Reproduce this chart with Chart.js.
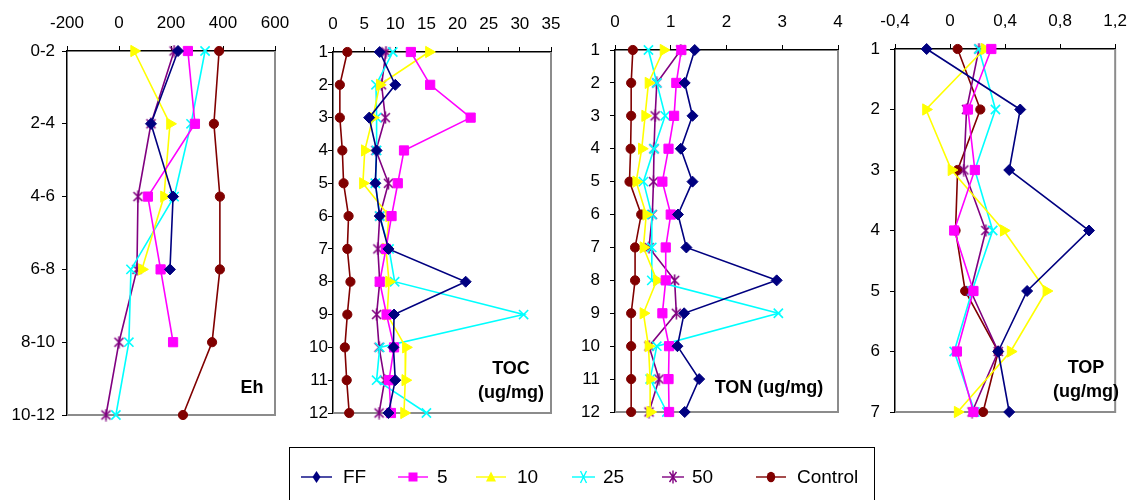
<!DOCTYPE html>
<html><head><meta charset="utf-8">
<script src="https://cdn.jsdelivr.net/npm/chart.js@4/dist/chart.umd.min.js"></script>
<style>
html,body{margin:0;padding:0;background:#fff;}
#wrap{position:relative;width:1139px;height:500px;overflow:hidden;font-family:"Liberation Sans",Arial,sans-serif;background:#fff;}
canvas.c{position:absolute;left:0;top:0;}
.t{position:absolute;font-weight:bold;font-size:18px;color:#000;text-align:center;line-height:24px;white-space:nowrap;}
#legend{position:absolute;left:289px;top:447px;width:586px;height:80px;border:1.5px solid #000;box-sizing:border-box;}
.li{position:absolute;font-size:19px;color:#000;line-height:22px;}
svg.m{position:absolute;}
</style>
</head><body>
<div id="wrap">
<canvas class="c" id="c1" width="1139" height="500"></canvas>
<canvas class="c" id="c2" width="1139" height="500"></canvas>
<canvas class="c" id="c3" width="1139" height="500"></canvas>
<canvas class="c" id="c4" width="1139" height="500"></canvas>
<div class="t" style="left:222px;top:375px;width:60px;">Eh</div>
<div class="t" style="left:461px;top:356px;width:100px;">TOC<br>(ug/mg)</div>
<div class="t" style="left:709px;top:375px;width:120px;">TON (ug/mg)</div>
<div class="t" style="left:1036px;top:355px;width:100px;">TOP<br>(ug/mg)</div>
<div id="legend"></div>
</div>
<script>
// ---- data ----
const seriesNames = ['FF', '5', '10', '25', '50', 'Control'];

const ehLabels = ['0-2', '2-4', '4-6', '6-8', '8-10', '10-12'];
const ehFF = [227, 123, 208, 196, null, null];
const eh5 = [265, 292, 111, 160, 208, null];
const eh10 = [58, 196, 173, 88, null, null];
const eh25 = [331, 277, 212, 46, 38, -12];
const eh50 = [212, 123, 73, 69, 0, -50];
const ehControl = [385, 365, 388, 388, 358, 246];

const tocLabels = ['1','2','3','4','5','6','7','8','9','10','11','12'];
const tocFF = [7.5, 10.0, 5.8, 7.0, 6.8, 7.5, 8.9, 21.3, 9.8, 9.7, 10.0, 8.9];
const toc5 = [12.5, 15.6, 22.1, 11.4, 10.4, 9.4, 8.5, 7.5, 8.6, 9.8, 9.0, 9.3];
const toc10 = [15.4, 7.5, 6.4, 5.1, 4.8, 9.0, 8.5, 9.0, 8.7, 11.7, 11.6, 11.4];
const toc25 = [9.6, 6.9, 7.0, 7.0, 6.8, 7.5, 9.0, 9.9, 30.6, 7.5, 7.0, 15.0];
const toc50 = [8.5, 7.8, 8.4, 6.9, 8.9, 7.5, 7.2, 7.5, 7.0, 7.4, 8.3, 7.4];
const tocControl = [2.3, 1.1, 1.1, 1.5, 1.7, 2.5, 2.3, 2.8, 2.3, 1.9, 2.2, 2.6];

const tonLabels = ['1','2','3','4','5','6','7','8','9','10','11','12'];
const tonFF = [1.43, 1.25, 1.39, 1.18, 1.39, 1.13, 1.28, 2.90, 1.24, 1.12, 1.51, 1.25];
const ton5 = [1.19, 1.10, 1.06, 0.96, 0.85, 1.00, 0.91, 0.91, 0.85, 0.97, 0.96, 0.97];
const ton10 = [0.87, 0.60, 0.54, 0.48, 0.38, 0.56, 0.51, 0.75, 0.51, 0.60, 0.63, 0.63];
const ton25 = [0.60, 0.75, 0.90, 0.70, 0.51, 0.66, 0.66, 0.66, 2.93, 0.75, 0.63, 0.93];
const ton50 = [1.18, 0.75, 0.72, 0.70, 0.69, 0.67, 0.61, 1.07, 1.10, 0.61, 0.79, 0.61];
const tonControl = [0.32, 0.29, 0.29, 0.28, 0.26, 0.47, 0.36, 0.36, 0.29, 0.29, 0.29, 0.29];

const topLabels = ['1','2','3','4','5','6','7'];
const topFF = [-0.17, 0.51, 0.43, 1.01, 0.56, 0.35, 0.43];
const top5 = [0.30, 0.13, 0.18, 0.03, 0.17, 0.05, 0.17];
const top10 = [0.25, -0.175, 0.01, 0.39, 0.70, 0.44, 0.055];
const top25 = [0.21, 0.33, 0.18, 0.31, 0.16, 0.03, 0.18];
const top50 = [0.21, 0.12, 0.10, 0.26, 0.15, 0.35, 0.16];
const topControl = [0.055, 0.22, 0.055, 0.04, 0.11, 0.35, 0.24];

const ehTicks = {min: -200, max: 600, step: 200};
const tocTicks = {min: 0, max: 35, step: 5};
const tonTicks = {min: 0, max: 4, step: 1};
const topTicks = {min: -0.4, max: 1.2, step: 0.4};

// ---- styles ----
const colors = ['#000080', '#FF00FF', '#FFFF00', '#00FFFF', '#800080', '#800000'];

function starImage(color) {
  const c = document.createElement('canvas');
  c.width = 13; c.height = 13;
  const g = c.getContext('2d');
  g.strokeStyle = color; g.lineWidth = 1.6;
  g.beginPath();
  g.moveTo(6.5, 0.5); g.lineTo(6.5, 12.5);
  g.moveTo(2, 2); g.lineTo(11, 11);
  g.moveTo(11, 2); g.lineTo(2, 11);
  g.stroke();
  return c;
}
const pointStyles = [
  {pointStyle: 'rectRot', pointRadius: 5.5, pointRotation: 0},
  {pointStyle: 'rect', pointRadius: 6.5, pointRotation: 0},
  {pointStyle: 'triangle', pointRadius: 6.5, pointRotation: 90},
  {pointStyle: 'crossRot', pointRadius: 6.5, pointRotation: 0},
  {pointStyle: starImage('#800080'), pointRadius: 6, pointRotation: 0},
  {pointStyle: 'circle', pointRadius: 4.6, pointRotation: 0}
];

const YW = 60, XH = 40, FONT = 'Liberation Sans, Arial, sans-serif';

const frame = {
  id: 'frame',
  beforeDatasetsDraw(chart) {
    const {ctx, chartArea: a} = chart;
    ctx.save();
    ctx.strokeStyle = '#8c8c8c';
    ctx.lineWidth = 2;
    ctx.beginPath();
    ctx.moveTo(a.left, a.bottom);
    ctx.lineTo(a.right, a.bottom);
    ctx.lineTo(a.right, a.top);
    ctx.stroke();
    ctx.restore();
  }
};

function fmtComma(v) {
  const r = Math.round(v * 10) / 10;
  if (r === 0) return '0';
  return String(r).replace('.', ',');
}

function makePanel(id, labels, series, tk, area, labelPad, fmt) {
  new Chart(document.getElementById(id), {
    type: 'line',
    data: {
      labels: labels,
      datasets: series.map((vals, i) => Object.assign({
        label: seriesNames[i],
        data: vals,
        borderColor: colors[i],
        backgroundColor: colors[i],
        pointBackgroundColor: colors[i],
        pointBorderColor: colors[i],
        pointBorderWidth: (i === 3) ? 1.6 : 1,
        borderWidth: 1.6,
        tension: 0,
        clip: false,
        spanGaps: false
      }, pointStyles[i]))
    },
    options: {
      indexAxis: 'y',
      responsive: false,
      animation: false,
      events: [],
      layout: {padding: {left: area.l - YW, top: area.t - XH, right: 1139 - area.r, bottom: 500 - area.b}},
      plugins: {legend: {display: false}, tooltip: {enabled: false}},
      scales: {
        x: {
          type: 'linear', position: 'top', min: tk.min, max: tk.max,
          ticks: {stepSize: tk.step, color: '#000', font: {family: FONT, size: 17}, padding: 12, maxRotation: 0, autoSkip: false,
                  callback: fmt ? fmt : (v => String(v))},
          grid: {drawOnChartArea: false, tickLength: 5, color: '#000', lineWidth: 1},
          border: {color: '#000', width: 1.5},
          afterFit(s) { s.height = XH; }
        },
        y: {
          type: 'category',
          ticks: {color: '#000', font: {family: FONT, size: 17}, padding: labelPad, autoSkip: false},
          grid: {drawOnChartArea: false, tickLength: 5, color: '#000', lineWidth: 1},
          border: {color: '#000', width: 1.5},
          afterFit(s) { s.width = YW; }
        }
      }
    },
    plugins: [frame]
  });
}

makePanel('c1', ehLabels, [ehFF, eh5, eh10, eh25, eh50, ehControl], ehTicks, {l: 67, r: 275, t: 51, b: 415}, 7);
makePanel('c2', tocLabels, [tocFF, toc5, toc10, toc25, toc50, tocControl], tocTicks, {l: 333, r: 551, t: 52, b: 413}, 0);
makePanel('c3', tonLabels, [tonFF, ton5, ton10, ton25, ton50, tonControl], tonTicks, {l: 615, r: 838, t: 50, b: 412}, 10);
makePanel('c4', topLabels, [topFF, top5, top10, top25, top50, topControl], topTicks, {l: 895, r: 1120, t: 49, b: 412}, 10, fmtComma);

// ---- legend (HTML) ----
const legendItems = [
  {x0: 301, w: 31, tx: 343, shape: 'diamond'},
  {x0: 398, w: 30, tx: 437, shape: 'square'},
  {x0: 476, w: 30, tx: 517, shape: 'triangle'},
  {x0: 572, w: 23, tx: 603, shape: 'cross'},
  {x0: 662, w: 22, tx: 692, shape: 'star'},
  {x0: 756, w: 30, tx: 797, shape: 'circle'}
];
const lg = document.getElementById('wrap');
const legY = 477;
legendItems.forEach((it, i) => {
  const col = colors[i];
  const c = it.w / 2;
  let mk = '';
  if (it.shape === 'diamond') mk = `<polygon points="${c},4 ${c+4},10 ${c},16 ${c-4},10" fill="${col}"/>`;
  if (it.shape === 'square') mk = `<rect x="${c-4.5}" y="5.5" width="9" height="9" fill="${col}"/>`;
  if (it.shape === 'triangle') mk = `<polygon points="${c},4.5 ${c+5},14.5 ${c-5},14.5" fill="${col}"/>`;
  if (it.shape === 'cross') mk = `<path d="M${c-3},4 L${c+3},16 M${c+3},4 L${c-3},16" stroke="${col}" stroke-width="1.4"/>`;
  if (it.shape === 'star') mk = `<path d="M${c},3.5 L${c},16.5 M${c-3.5},5 L${c+3.5},15 M${c+3.5},5 L${c-3.5},15" stroke="${col}" stroke-width="1.4"/>`;
  if (it.shape === 'circle') mk = `<ellipse cx="${c}" cy="10" rx="4.2" ry="5.3" fill="${col}"/>`;
  const svg = `<svg class="m" style="left:${it.x0}px;top:${legY-10}px" width="${it.w}" height="20"><line x1="0" y1="10" x2="${it.w}" y2="10" stroke="${col}" stroke-width="1.4"/>${mk}</svg>`;
  const txt = `<div class="li" style="left:${it.tx}px;top:${legY-11}px">${seriesNames[i]}</div>`;
  lg.insertAdjacentHTML('beforeend', svg + txt);
});
</script>
</body></html>
